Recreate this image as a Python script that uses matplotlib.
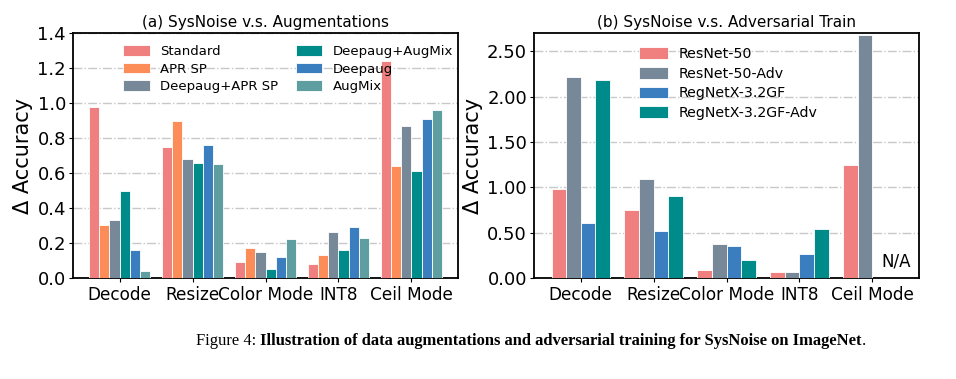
import matplotlib
matplotlib.use("Agg")
import matplotlib.pyplot as plt
import numpy as np

# noise types (x groups)
noise_types = ["Decode", "Resize", "Color Mode", "INT8", "Ceil Mode"]

# (a) augmentations
aug_names = ["Standard", "APR SP", "Deepaug+APR SP", "Deepaug+AugMix", "Deepaug", "AugMix"]
aug_standard = [0.98, 0.75, 0.09, 0.08, 1.24]
aug_apr_sp = [0.30, 0.90, 0.17, 0.13, 0.64]
aug_deepaug_apr = [0.33, 0.68, 0.15, 0.26, 0.87]
aug_deepaug_augmix = [0.50, 0.66, 0.05, 0.16, 0.61]
aug_deepaug = [0.16, 0.76, 0.12, 0.29, 0.91]
aug_augmix = [0.04, 0.65, 0.22, 0.23, 0.96]

# (b) adversarial training (nan = not available)
adv_names = ["ResNet-50", "ResNet-50-Adv", "RegNetX-3.2GF", "RegNetX-3.2GF-Adv"]
adv_resnet = [0.98, 0.75, 0.09, 0.07, 1.24]
adv_resnet_adv = [2.22, 1.09, 0.38, 0.07, 2.68]
adv_regnet = [0.61, 0.52, 0.35, 0.26, np.nan]
adv_regnet_adv = [2.18, 0.90, 0.20, 0.54, np.nan]

aug_colors = ["#f08080", "#fc8d59", "#778899", "#008b8b", "#3a7ebf", "#5f9ea0"]
adv_colors = ["#f08080", "#778899", "#3a7ebf", "#008b8b"]


def grouped_bars(ax, series, names, colors, width):
    x = np.arange(len(noise_types))
    n = len(series)
    for i, (vals, name, c) in enumerate(zip(series, names, colors)):
        ax.bar(x + (i - (n - 1) / 2) * width, vals, width, color=c,
               edgecolor="white", linewidth=0.6, label=name, zorder=3)
    ax.set_xticks(x)
    ax.set_xticklabels(noise_types, fontsize=12.2)
    ax.set_xlim(-0.64, 4.64)
    ax.tick_params(axis="y", labelsize=13, length=3, pad=2)
    ax.tick_params(axis="x", length=3, pad=3)
    ax.grid(axis="y", linestyle="-.", color="#c8c8c8", linewidth=1.0, zorder=0)
    for s in ax.spines.values():
        s.set_linewidth(1.3)


fig = plt.figure(figsize=(9.56, 3.79), dpi=100)
ax1 = fig.add_axes([0.0764, 0.2665, 0.4027, 0.6464])
ax2 = fig.add_axes([0.5586, 0.2665, 0.4027, 0.6464])

grouped_bars(ax1, [aug_standard, aug_apr_sp, aug_deepaug_apr, aug_deepaug_augmix,
                   aug_deepaug, aug_augmix], aug_names, aug_colors, 0.14)
ax1.set_ylim(0, 1.4)
ax1.set_yticks(np.arange(0, 1.41, 0.2))
ax1.set_yticklabels([f"{v:.1f}" for v in np.arange(0, 1.41, 0.2)])
ax1.set_ylabel("Δ Accuracy", fontsize=15, labelpad=3)
ax1.set_title("(a) SysNoise v.s. Augmentations", fontsize=11, pad=4)
ax1.legend(ncol=2, frameon=False, fontsize=9.5, loc="upper left",
           bbox_to_anchor=(0.1, 1.0), handlelength=2.0, handleheight=0.9,
           labelspacing=0.35, columnspacing=1.3)

grouped_bars(ax2, [adv_resnet, adv_resnet_adv, adv_regnet, adv_regnet_adv],
             adv_names, adv_colors, 0.2)
ax2.set_ylim(0, 2.7)
ax2.set_yticks(np.arange(0, 2.51, 0.5))
ax2.set_yticklabels([f"{v:.2f}" for v in np.arange(0, 2.51, 0.5)])
ax2.set_ylabel("Δ Accuracy", fontsize=15, labelpad=3)
ax2.set_title("(b) SysNoise v.s. Adversarial Train", fontsize=11, pad=4)
ax2.legend(frameon=False, fontsize=10.2, loc="upper left",
           bbox_to_anchor=(0.24, 0.995), handlelength=2.0, handleheight=0.9,
           labelspacing=0.4)
ax2.text(4.32, 0.08, "N/A", fontsize=12, ha="center", va="bottom", zorder=4)

# caption with mixed regular / bold text
fig.canvas.draw()
renderer = fig.canvas.get_renderer()
cap_size = 11.9
t1 = fig.text(0.205, 0.1, "Figure 4: ", fontsize=cap_size, family="Liberation Serif",
              ha="left", va="center")
bb = t1.get_window_extent(renderer)
t2 = fig.text(bb.x1 / fig.bbox.width, 0.1,
              "Illustration of data augmentations and adversarial training for SysNoise on ImageNet",
              fontsize=cap_size, family="Liberation Serif", weight="bold", ha="left", va="center")
bb2 = t2.get_window_extent(renderer)
fig.text(bb2.x1 / fig.bbox.width, 0.1, ".", fontsize=cap_size, family="Liberation Serif",
         ha="left", va="center")

fig.savefig("out.png", dpi=100)
